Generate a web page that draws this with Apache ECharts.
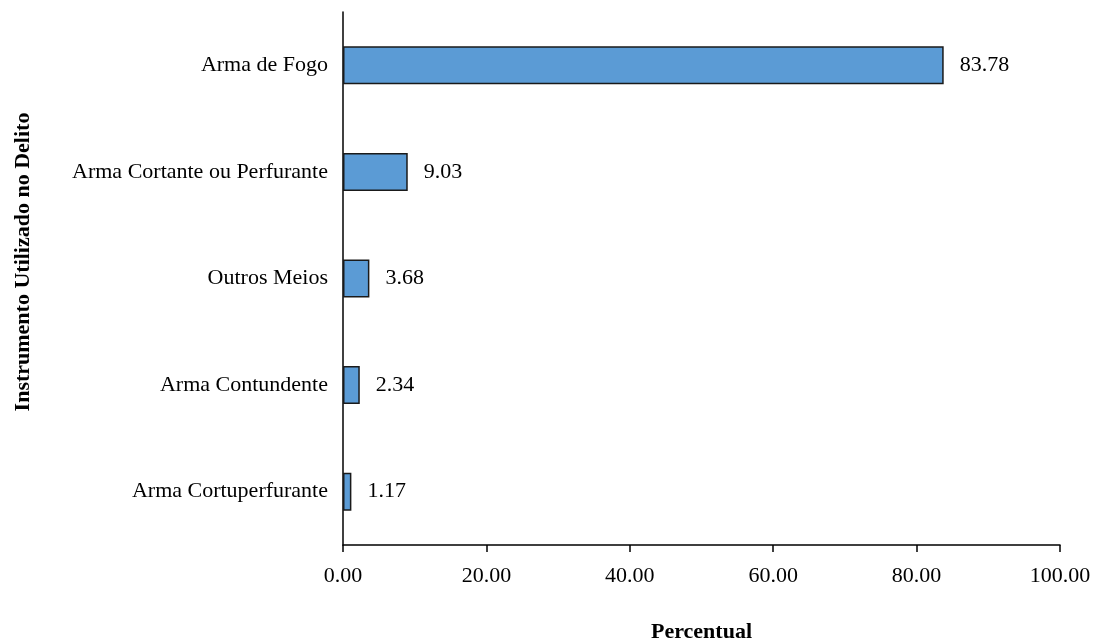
<!DOCTYPE html>
<html><head><meta charset="utf-8">
<script src="https://cdn.jsdelivr.net/npm/echarts@6/dist/echarts.min.js"></script>
<style>html,body{margin:0;padding:0;background:#fff}#c{width:1096px;height:644px}</style>
</head><body><div id="c"></div>
<script>
const categories = ["Arma Cortuperfurante","Arma Contundente","Outros Meios","Arma Cortante ou Perfurante","Arma de Fogo"];
const values = [1.17, 2.34, 3.68, 9.03, 83.78];
const xTicks = {min:0, max:100, interval:20};
const font = "'Liberation Serif','Times New Roman',serif";
const chart = echarts.init(document.getElementById('c'));
chart.setOption({
  animation:false,
  grid:{left:343,right:36,top:12,bottom:99,containLabel:false,outerBoundsMode:'none'},
  xAxis:{type:'value',min:xTicks.min,max:xTicks.max,interval:xTicks.interval,
    axisLine:{show:true,lineStyle:{color:'#000',width:1.5}},
    axisTick:{show:true,length:7,lineStyle:{color:'#000',width:1.5}},
    splitLine:{show:false},
    axisLabel:{color:'#000',fontFamily:font,fontSize:22,margin:20,formatter:v=>v.toFixed(2)},
    name:'Percentual',nameLocation:'middle',nameGap:76,
    nameTextStyle:{fontFamily:font,fontSize:22,fontWeight:'bold',color:'#000'}},
  yAxis:{type:'category',data:categories,
    axisLine:{show:true,lineStyle:{color:'#000',width:1.5}},
    axisTick:{show:false},
    axisLabel:{color:'#000',fontFamily:font,fontSize:22,margin:15}},
  graphic:[{type:'text',x:23,y:262,rotation:Math.PI/2,
    style:{text:'Instrumento Utilizado no Delito',font:'bold 22px '+font,fill:'#000',align:'center',verticalAlign:'middle'}}],
  series:[{type:'bar',data:values,barWidth:38,
    itemStyle:{color:'#5B9BD5',borderColor:'#1a1a1a',borderWidth:1.5},
    label:{show:true,position:'right',distance:16,color:'#000',fontFamily:font,fontSize:22,formatter:p=>p.value.toFixed(2)}}]
});
</script></body></html>
